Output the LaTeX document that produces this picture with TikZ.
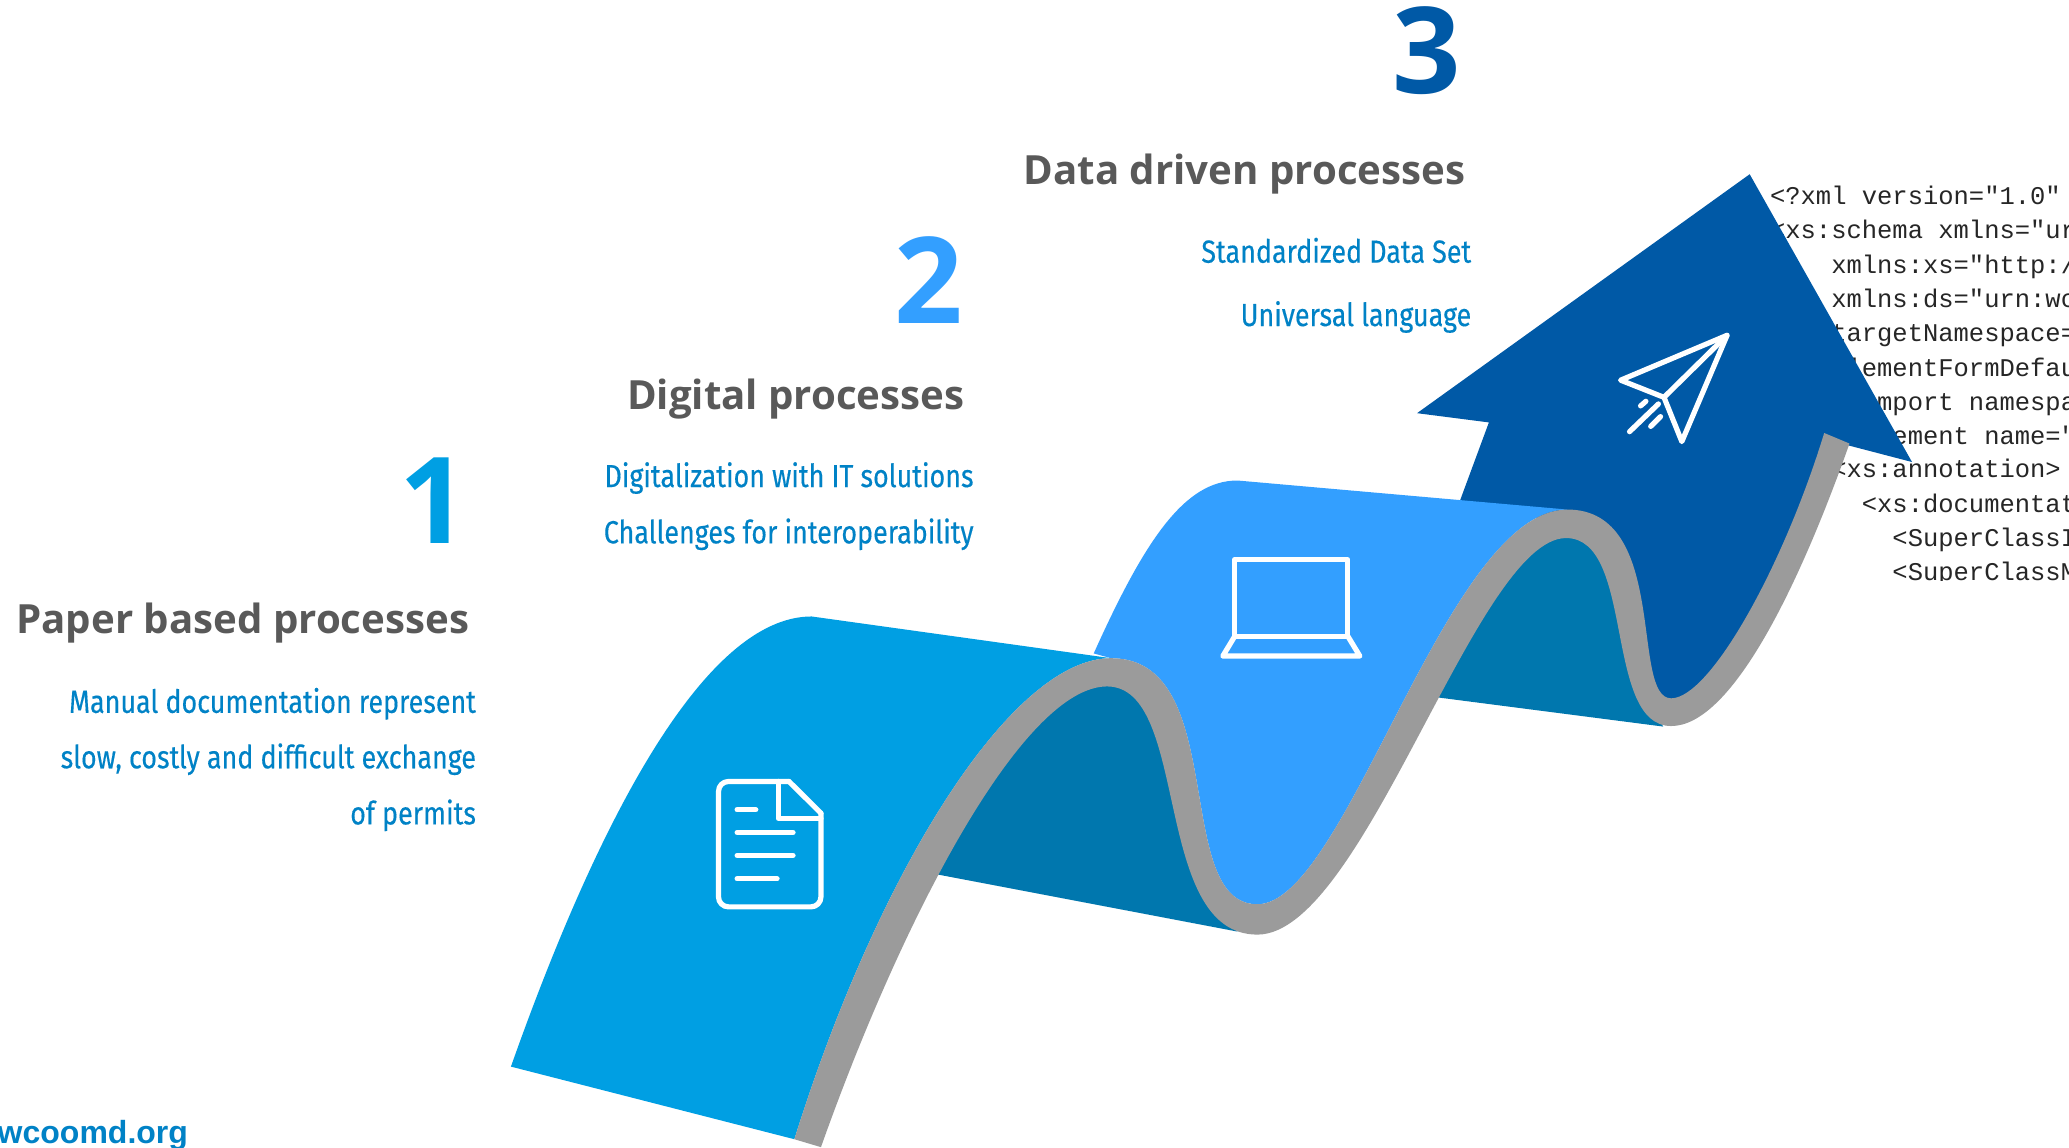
\documentclass[tikz,border=0pt]{standalone}
\usepackage{fontspec}
\setmainfont{Open Sans}
\newfontfamily\titlefont{Open Sans}[BoldFont={Open Sans Bold}]
\newfontfamily\bluefont{Fira Sans}[FakeStretch=0.84,FakeBold=0.3]
\newfontfamily\codefont{Liberation Mono}
\newfontfamily\urlfont{Liberation Sans}
\definecolor{panelone}{HTML}{009FE3}
\definecolor{paneltwo}{HTML}{339FFF}
\definecolor{navy}{HTML}{0059A6}
\definecolor{darkpanel}{HTML}{0077AE}
\definecolor{edgegray}{HTML}{9B9B9B}
\definecolor{bodyblue}{HTML}{0082C6}
\definecolor{titlegray}{HTML}{595959}
\tikzset{
  numeral/.style={inner sep=0pt,anchor=base east,font=\fontsize{60}{60}\selectfont\titlefont\bfseries},
  heading/.style={inner sep=0pt,anchor=base west,text=titlegray,font=\fontsize{20.1}{24}\selectfont\titlefont\bfseries},
  bodyline/.style={inner sep=0pt,anchor=base east,text=bodyblue,font=\fontsize{16}{18}\selectfont\bluefont},
  codeline/.style={inner sep=0pt,anchor=base west,text=black!85,font=\fontsize{12.75}{15}\selectfont\codefont},
  glyph/.style={draw=white,line width=2.6pt,line join=round,line cap=round}
}
\begin{document}
\begin{tikzpicture}[x=0.66525pt,y=-0.66pt]
\useasboundingbox (0,0) rectangle (1555,869);
\fill[white] (0,0) rectangle (1555,869);
% code
\begin{scope}
\clip (1300,120) rectangle (1555,440);
\node[codeline] (c1) at (1330,155) {<?xml version="1.0"};
\node[codeline] (c2) at (1330,181) {<xs:schema xmlns="ur};
\node[codeline] (c3) at (1376,207) {xmlns:xs="http:/};
\node[codeline] (c4) at (1376,233) {xmlns:ds="urn:wc};
\node[codeline] (c5) at (1376,259) {targetNamespace=};
\node[codeline] (c6) at (1376,285) {elementFormDefau};
\node[codeline] (c7) at (1353,311) {<xs:import namespa};
\node[codeline] (c8) at (1353,337) {<xs:element name="};
\node[codeline] (c9) at (1376,362) {<xs:annotation>};
\node[codeline] (c10) at (1399,388) {<xs:documentat};
\node[codeline] (c11) at (1422,414) {<SuperClassI};
\node[codeline] (c12) at (1422,440) {<SuperClassM};
\end{scope}
% arrow
\fill[navy] (1315,132) -- (1437,350) -- (1380,335) -- (1363,378) -- (1340,430) -- (1308,490) -- (1285,525) -- (1256,540)
  -- (1234,525) -- (1226,490) -- (1222,435) -- (1205,405) -- (1178,397) -- (1097,380) -- (1119,320) -- (1065,313) -- cycle;
% dark back of the second fold
\fill[darkpanel] (1075,527.6) -- (1250,550.4) -- (1234,525) -- (1226,490) -- (1222,435) -- (1205,405) -- (1178,397)
  -- (1155,405) -- (1135,425) -- (1110,465) -- (1088,500) -- cycle;
% panel two
\fill[paneltwo] (822,495) .. controls (860,410) and (890,364) .. (930,364) -- (1178,386)
  .. controls (1087,386) and (1012,685) .. (945,685)
  .. controls (880,685) and (925,498.6) .. (835,498.6) -- cycle;
% dark back of the first fold
\fill[darkpanel] (695,660.6) -- (930,705.7) -- (930,697) -- (910,680) -- (893,640) -- (888,590) -- (875,545) -- (858,518)
  -- (832,510) -- (808,513) -- (781,533) -- (746,575) -- (725,610) -- (702,650) -- cycle;
% panel one
\fill[panelone] (384,808) .. controls (450,620) and (530,467) .. (610,467) -- (835,498.6)
  .. controls (760,498.6) and (660,660) .. (597,863) -- cycle;
% grey edge, one band from the foot to the arrow
\fill[edgegray] (597,863)
  .. controls (660,660) and (760,498.6) .. (835,498.6)
  .. controls (925,498.6) and (880,685) .. (945,685)
  .. controls (1012,685) and (1087,386) .. (1178,386)
  .. controls (1255,386) and (1225,529) .. (1256,529)
  .. controls (1285,529) and (1340,430) .. (1371,328)
  -- (1390,336)
  .. controls (1350,450) and (1300,550) .. (1256,550)
  .. controls (1205,550) and (1229,407.6) .. (1177,407.6)
  .. controls (1110,407.6) and (1025,708) .. (945,708)
  .. controls (865,708) and (895,520) .. (832,520)
  .. controls (770,520) and (680,690) .. (617,869) -- cycle;
% document icon
\draw[glyph,rounded corners=5pt] (593,592) -- (540,592) -- (540,687) -- (617,687) -- (617,616);
\draw[glyph] (593,592) -- (617,616);
\draw[glyph] (585,592) -- (585,620) -- (617,620);
\draw[glyph] (554,613.4) -- (568,613.4) (554,630.6) -- (596,630.6) (554,648) -- (596,648) (554,665.7) -- (584,665.7);
% laptop icon
\draw[glyph] (928,482) -- (928,424) -- (1013,424) -- (1013,482) -- cycle;
\draw[glyph] (928,482) -- (919,497) -- (1022,497) -- (1013,482);
% plane icon
\draw[glyph] (1298,254) -- (1218,288) -- (1250.6,301) -- (1264,334.5) -- cycle;
\draw[glyph] (1298,254) -- (1250.6,301);
\draw[glyph] (1224.7,327) -- (1246.4,306) (1233,307.5) -- (1237,304) (1240.6,323) -- (1248,315.6);
% numerals
\node[numeral,text=panelone] (n1) at (352,412) {1};
\node[numeral,text=paneltwo] (n2) at (724,245) {2};
\node[numeral,text=navy] (n3) at (1098,71) {3};
% headings
\node[heading] (t1) at (12,480) {Paper based processes};
\node[heading] (t2) at (471,310) {Digital processes};
\node[heading] (t3) at (769,140) {Data driven processes};
% body
\node[bodyline] (b11) at (358,540) {Manual documentation represent};
\node[bodyline] (b12) at (358,582) {slow, costly and difficult exchange};
\node[bodyline] (b13) at (358,624.5) {of permits};
\node[bodyline] (b21) at (732,369) {Digitalization with IT solutions};
\node[bodyline] (b22) at (732,411.6) {Challenges for interoperability};
\node[bodyline] (b31) at (1106,199) {Standardized Data Set};
\node[bodyline] (b32) at (1106,247) {Universal language};
% url
\node[inner sep=0pt,anchor=base west,text=bodyblue,font=\fontsize{16}{18}\selectfont\urlfont\bfseries] (u) at (-2,866) {wcoomd.org};
\end{tikzpicture}
\end{document}
